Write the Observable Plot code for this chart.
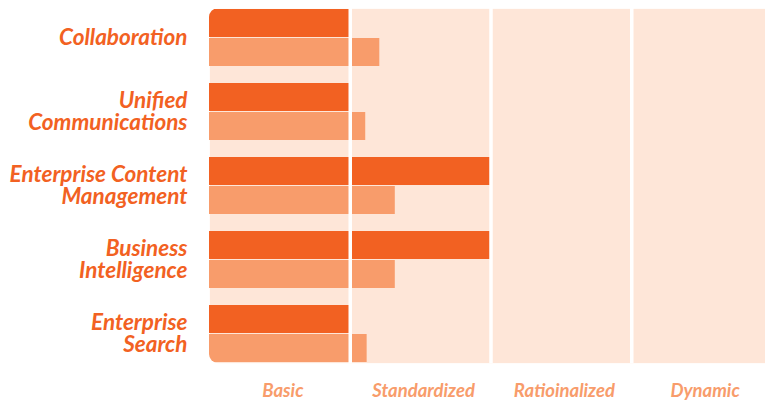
<!DOCTYPE html>
<html><head><meta charset="utf-8">
<script src="https://cdn.jsdelivr.net/npm/d3@7"></script>
<script src="https://cdn.jsdelivr.net/npm/@observablehq/plot@0.6"></script>
<style>body{margin:0;background:#fff} #chart svg{display:block}</style>
</head><body><div id="chart"></div>
<script>
const categories = ["Collaboration", "Unified Communications", "Enterprise Content Management", "Business Intelligence", "Enterprise Search"];
const categoryLabels = ["Collaboration", "Unified\nCommunications", "Enterprise Content\nManagement", "Business\nIntelligence", "Enterprise\nSearch"];
const stages = ["Basic", "Standardized", "Ratioinalized", "Dynamic"];
const seriesDark = [1, 1, 2, 2, 1];
const seriesLight = [1.21, 1.11, 1.32, 1.32, 1.12];

const rows = categories.map((c, i) => ({category: c, label: categoryLabels[i], dark: seriesDark[i], light: seriesLight[i]}));
const stageRows = stages.map((s, i) => ({stage: s, mid: i + 0.5}));
const bounds = stages.slice(1).map((s, i) => i + 1);

const DARK = "#F26122", LIGHT = "#F89C6B", BG = "#FEE6D8";
const FONT = "Lato, 'Open Sans', sans-serif";

const plot = Plot.plot({
  width: 765, height: 401,
  marginLeft: 209, marginRight: 0, marginTop: 8, marginBottom: 38,
  style: {background: "white"},
  x: {domain: [0, stages.length], range: [209, 772], axis: null},
  y: {domain: categories, paddingInner: 0.235, paddingOuter: 0, axis: null},
  marks: [
    Plot.frame({fill: BG, stroke: "none"}),
    Plot.barX(rows, {y: "category", x1: 0, x2: "dark", fill: DARK, insetBottom: 29}),
    Plot.barX(rows, {y: "category", x1: 0, x2: "light", fill: LIGHT, insetTop: 29}),
    Plot.ruleX(bounds, {stroke: "white", strokeWidth: 3.5}),
    Plot.text(rows, {y: "category", text: "label", frameAnchor: "left", textAnchor: "end", dx: -22,
      lineAnchor: "middle", lineHeight: 0.97, fill: DARK, fontSize: 22.5, fontWeight: "bold", fontStyle: "italic", fontFamily: FONT}),
    Plot.text(stageRows, {x: "mid", text: "stage", frameAnchor: "bottom", lineAnchor: "bottom", dy: 33, dx: 3,
      fill: LIGHT, fontSize: 18.5, fontWeight: "bold", fontStyle: "italic", fontFamily: FONT})
  ]
});

// rounded left corners for the plot area
const svg = d3.select(plot);
const x0 = plot.scale("x").apply(0);
const yr = plot.scale("y").range;
const x1 = 765, y0 = Math.min(...yr), y1 = Math.max(...yr), r = 9;
svg.insert("defs", ":first-child").append("clipPath").attr("id", "roundclip")
  .append("path")
  .attr("d", `M${x0 + r},${y0}H${x1}V${y1}H${x0 + r}A${r},${r} 0 0 1 ${x0},${y1 - r}V${y0 + r}A${r},${r} 0 0 1 ${x0 + r},${y0}Z`);
svg.selectAll('[aria-label="frame"], [aria-label="bar"], [aria-label="rule"]').attr("clip-path", "url(#roundclip)");

document.getElementById("chart").appendChild(plot);
</script>
</body></html>
